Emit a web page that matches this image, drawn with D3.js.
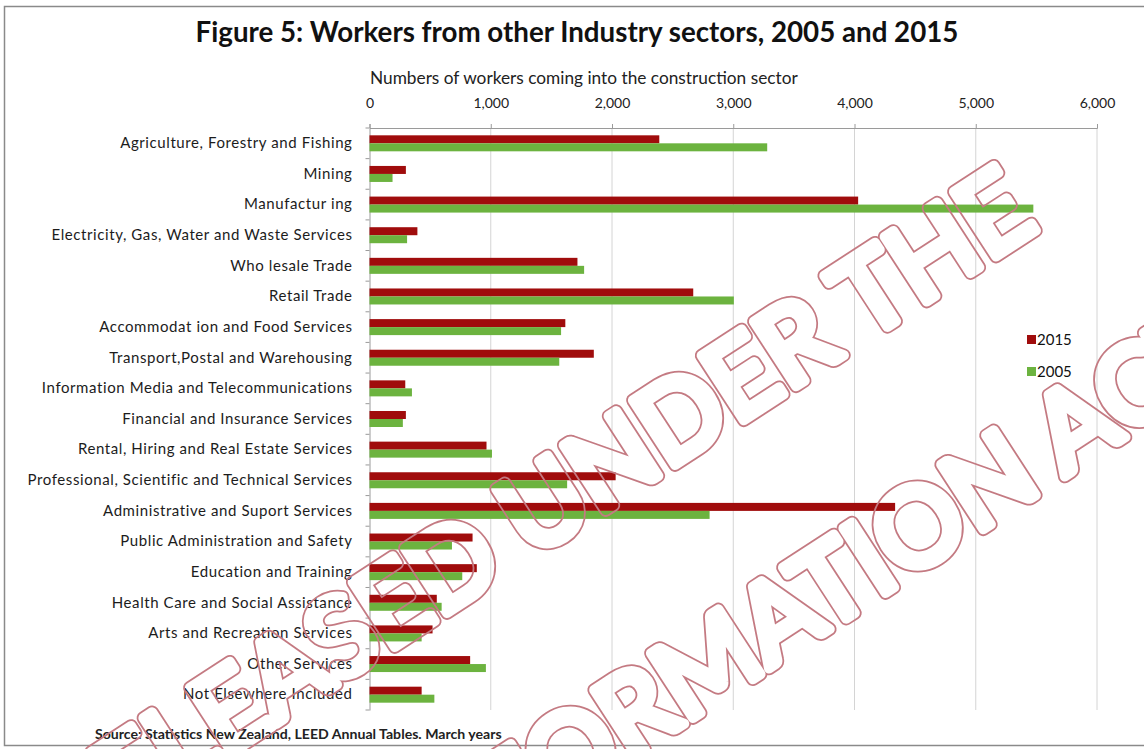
<!DOCTYPE html>
<html>
<head>
<meta charset="utf-8">
<script src="https://cdn.jsdelivr.net/npm/d3@7"></script>
<style>
  html, body { margin: 0; padding: 0; background: #fff; }
  svg { display: block; }
  text { font-family: Lato, "Open Sans", sans-serif; }
</style>
</head>
<body>
<svg id="chart" width="1144" height="749"></svg>
<script>
// Workers entering construction, by previous industry sector
const categories = [
  "Agriculture, Forestry and Fishing",
  "Mining",
  "Manufactur ing",
  "Electricity, Gas, Water and Waste Services",
  "Who lesale Trade",
  "Retail Trade",
  "Accommodat ion and Food Services",
  "Transport,Postal and Warehousing",
  "Information Media and Telecommunications",
  "Financial and Insurance Services",
  "Rental, Hiring and Real Estate Services",
  "Professional, Scientific and Technical Services",
  "Administrative and Suport Services",
  "Public Administration and Safety",
  "Education and Training",
  "Health Care and Social Assistance",
  "Arts and Recreation Services",
  "Other Services",
  "Not Elsewhere Included"
];
const values2015 = [2390, 300, 4030, 395, 1715, 2670, 1615, 1850, 295, 300, 965, 2030, 4335, 850, 885, 555, 520, 830, 430];
const values2005 = [3280, 190, 5475, 310, 1770, 3005, 1580, 1565, 350, 275, 1010, 1630, 2805, 680, 765, 595, 430, 960, 535];
const seriesNames = ["2015", "2005"];
const tickValues = [0, 1000, 2000, 3000, 4000, 5000, 6000];

const titleText = "Figure 5:  Workers from other Industry sectors, 2005 and 2015";
const axisTitle = "Numbers of workers coming into the construction sector";
const sourceText = "Source:  Statistics New Zealand, LEED Annual Tables.  March years";
const stampLines = ["RELEASED UNDER THE", "OFFICIAL INFORMATION ACT"];

const colors = { "2015": "#a00c0c", "2005": "#6cb33f" };

const svg = d3.select("#chart");
const defs = svg.append("defs");

// Frame around the figure
svg.append("rect")
  .attr("x", 4.5).attr("y", 6.5).attr("width", 1160).attr("height", 739)
  .attr("fill", "none").attr("stroke", "#8a8a8a").attr("stroke-width", 1.5);

// Title, fitted to its width
const title = svg.append("text")
  .attr("x", 577).attr("y", 42)
  .attr("text-anchor", "middle")
  .attr("font-weight", 700).attr("font-size", 26)
  .attr("fill", "#111")
  .text(titleText);
{
  const w = title.node().getComputedTextLength();
  title.attr("font-size", 26 * 763 / w);
}

const plot = { left: 369.5, right: 1097, top: 128, bottom: 710 };

const x = d3.scaleLinear().domain([0, 6000]).range([plot.left, plot.right]);
const y = d3.scaleBand().domain(categories).range([plot.top, plot.bottom]);
const sub = d3.scaleBand().domain(seriesNames).range([0, 16]);
const barOffset = (y.bandwidth() - 16) / 2;

// Vertical gridlines
svg.append("g")
  .selectAll("line")
  .data(tickValues.slice(1))
  .join("line")
  .attr("x1", d => x(d)).attr("x2", d => x(d))
  .attr("y1", plot.top).attr("y2", plot.bottom)
  .attr("stroke", "#d4d4d4").attr("stroke-width", 1);

// Top value axis
const xAxis = svg.append("g")
  .attr("transform", `translate(0,${plot.top})`)
  .call(d3.axisTop(x).tickValues(tickValues).tickSize(4).tickPadding(16)
    .tickFormat(d3.format(",")));
xAxis.select(".domain").attr("stroke", "#9a9a9a");
xAxis.selectAll(".tick line").attr("stroke", "#9a9a9a");
xAxis.selectAll(".tick text")
  .attr("font-family", "Lato, sans-serif")
  .attr("font-size", 14).attr("fill", "#222");

// Axis title
const at = svg.append("text")
  .attr("x", 370).attr("y", 84)
  .attr("font-size", 14).attr("fill", "#222")
  .text(axisTitle);
{
  const w = at.node().getComputedTextLength();
  at.attr("font-size", 14 * 428 / w);
}

// Category axis
const yAxis = svg.append("g")
  .attr("transform", `translate(${plot.left},0)`)
  .call(d3.axisLeft(y).tickSize(0).tickPadding(17));
yAxis.select(".domain").attr("stroke", "#9a9a9a");
const catLabels = yAxis.selectAll(".tick text")
  .attr("font-family", "Lato, sans-serif")
  .attr("font-size", 15).attr("fill", "#1c1c1c");
// loosen the letter spacing so the longest label spans its full width
{
  const longest = catLabels.filter(d => d === categories[11]).node();
  const w = longest.getComputedTextLength();
  const ls = (325 - w) / categories[11].length;
  catLabels.attr("letter-spacing", ls.toFixed(2));
}
// small tick marks between categories
svg.append("g")
  .selectAll("line")
  .data(d3.range(categories.length + 1))
  .join("line")
  .attr("x1", plot.left - 4).attr("x2", plot.left)
  .attr("y1", i => plot.top + i * y.step()).attr("y2", i => plot.top + i * y.step())
  .attr("stroke", "#9a9a9a");

// Bars
const rows = categories.map((c, i) => ({ cat: c, "2015": values2015[i], "2005": values2005[i] }));
const groups = svg.append("g")
  .selectAll("g")
  .data(rows)
  .join("g")
  .attr("transform", d => `translate(0,${y(d.cat) + barOffset})`);
groups.selectAll("rect")
  .data(d => seriesNames.map(s => ({ s, v: d[s] })))
  .join("rect")
  .attr("x", x(0))
  .attr("y", d => sub(d.s))
  .attr("width", d => x(d.v) - x(0))
  .attr("height", sub.bandwidth())
  .attr("fill", d => colors[d.s]);

// Legend
const legend = svg.append("g").attr("transform", "translate(1027,333)");
seriesNames.forEach((s, i) => {
  const g = legend.append("g").attr("transform", `translate(0,${i * 32})`);
  g.append("rect").attr("x", 0).attr("y", 2).attr("width", 9).attr("height", 9).attr("fill", colors[s]);
  g.append("text").attr("x", 10).attr("y", 12).attr("font-size", 15).attr("fill", "#111").text(s);
});

// Source note
const src = svg.append("text")
  .attr("x", 95).attr("y", 739)
  .attr("font-size", 11).attr("font-weight", 700).attr("fill", "#222")
  .text(sourceText);
{
  const w = src.node().getComputedTextLength();
  src.attr("font-size", 11 * 407 / w);
}

// Release stamp: hollow, round-cornered lettering laid diagonally over the chart.
// A thick stroke is drawn and a slightly thinner one is masked out, leaving an outline.
const stampTransform = "translate(1040,228) rotate(-33)";
const stampLinePos = [[0, 0], [92, 222]];
function addStampText(sel) {
  stampLines.forEach((t, i) => {
    sel.append("text")
      .attr("x", stampLinePos[i][0]).attr("y", stampLinePos[i][1])
      .attr("text-anchor", "end")
      .attr("font-family", "'Liberation Sans', Arial, sans-serif")
      .attr("font-size", 108)
      .text(t);
  });
}
const mask = defs.append("mask")
  .attr("id", "stamp-hollow")
  .attr("maskUnits", "userSpaceOnUse")
  .attr("x", 0).attr("y", 0).attr("width", 1144).attr("height", 749);
mask.append("rect").attr("width", 1144).attr("height", 749).attr("fill", "#fff");
const inner = mask.append("g")
  .attr("transform", stampTransform)
  .attr("fill", "#000").attr("stroke", "#000")
  .attr("stroke-width", 10).attr("stroke-linejoin", "round").attr("stroke-linecap", "round");
addStampText(inner);

const stamp = svg.append("g").attr("mask", "url(#stamp-hollow)")
  .append("g")
  .attr("transform", stampTransform)
  .attr("fill", "#c47a82").attr("stroke", "#c47a82")
  .attr("stroke-width", 13.5).attr("stroke-linejoin", "round").attr("stroke-linecap", "round");
addStampText(stamp);
</script>
</body>
</html>
